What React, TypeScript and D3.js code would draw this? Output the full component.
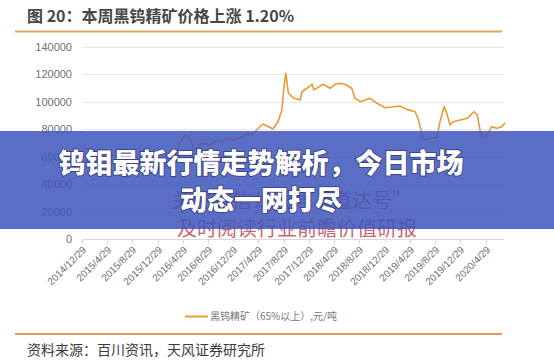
import React from "react";
import * as d3 from "d3";

// weekly price points (date, 元/吨)
const dates = [
  "2014-12-29", "2015-02-28", "2015-04-29", "2015-06-29", "2015-08-29", "2015-10-29",
  "2015-12-29", "2016-02-29", "2016-03-15", "2016-04-10", "2016-05-08", "2016-05-31",
  "2016-06-25", "2016-07-29", "2016-09-08", "2016-10-10", "2016-11-03", "2016-11-29",
  "2016-12-29", "2017-02-15", "2017-03-02", "2017-03-26", "2017-04-20", "2017-05-20",
  "2017-06-15", "2017-07-08", "2017-08-01", "2017-08-20", "2017-09-01", "2017-09-08",
  "2017-09-20", "2017-10-15", "2017-11-16", "2017-11-25", "2018-01-13", "2018-01-22",
  "2018-03-07", "2018-04-10", "2018-05-03", "2018-05-29", "2018-06-20", "2018-07-23",
  "2018-08-08", "2018-09-02", "2018-10-20", "2018-11-22", "2018-12-31", "2019-03-14",
  "2019-04-15", "2019-05-25", "2019-06-08", "2019-07-04", "2019-07-26", "2019-09-07",
  "2019-09-22", "2019-10-12", "2019-10-25", "2019-11-10", "2019-11-25", "2019-12-29",
  "2020-02-01", "2020-03-04", "2020-03-20", "2020-04-04", "2020-04-18", "2020-05-06",
  "2020-05-29", "2020-06-22", "2020-07-17", "2020-08-01",
];
const prices = [
  67000, 64000, 62000, 60000, 57000, 55000,
  52000, 54000, 60000, 68000, 75900, 73700,
  65000, 69900, 68600, 72300, 71000, 73500,
  72300, 74700, 77100, 75900, 79500, 83900,
  82000, 80200, 85500, 94000, 113600, 120700,
  106400, 102700, 101300, 107300, 112700, 108600,
  112700, 109800, 112700, 113400, 112700, 109800,
  102500, 100100, 102500, 98900, 95700, 96900,
  94500, 92800, 88000, 72800, 73000, 74200,
  85500, 96400, 91600, 83200, 85500, 86800,
  88000, 92800, 90400, 78300, 74200, 75900,
  81900, 80800, 81900, 84800,
];
const tickDates = [
  "2014/12/29", "2015/4/29", "2015/8/29", "2015/12/29", "2016/4/29", "2016/8/29",
  "2016/12/29", "2017/4/29", "2017/8/29", "2017/12/29", "2018/4/29", "2018/8/29",
  "2018/12/29", "2019/4/29", "2019/8/29", "2019/12/29", "2020/4/29",
];
const yTicks = [0, 20000, 40000, 60000, 80000, 100000, 120000, 140000];

const title = "图 20：本周黑钨精矿价格上涨 1.20%";
const legendLabel = "黑钨精矿（65%以上）,元/吨";
const source = "资料来源：百川资讯，天风证券研究所";
const bannerLines = ["钨钼最新行情走势解析，今日市场", "动态一网打尽"];
const watermark = ["关注微信公众号“道达号”", "及时阅读行业前瞻价值研报"];

const W = 554;
const H = 362;

export default function App() {
  const parse = d3.timeParse("%Y-%m-%d");
  const parseTick = d3.timeParse("%Y/%m/%d");
  const data = dates.map((d, i) => ({ date: parse(d) as Date, value: prices[i] }));

  const x = d3.scaleTime()
    .domain([parse("2014-12-29") as Date, parse("2020-08-01") as Date])
    .range([82, 505]);
  const y = d3.scaleLinear().domain([0, 140000]).range([239.5, 46.7]);

  const line = d3.line<{ date: Date; value: number }>()
    .x(d => x(d.date))
    .y(d => y(d.value));

  const sans = "'Liberation Sans', Arial, 'Noto Sans CJK SC', sans-serif";
  const cjk = "'Noto Sans CJK SC', sans-serif";

  return (
    <svg width={W} height={H} style={{ position: "absolute", left: 0, top: 0, background: "#fff" }}>
      <rect width={W} height={H} fill="#fff" />
      <text x={27} y={22} fontFamily={cjk} fontSize={16} fontWeight="bold" fill="#474747">{title}</text>
      <line x1={15} x2={502} y1={31.5} y2={31.5} stroke="#dfa36b" strokeWidth={2} />

      {yTicks.map(t => (
        <g key={t}>
          {t > 0 && <line x1={82} x2={504} y1={Math.round(y(t)) + 0.5} y2={Math.round(y(t)) + 0.5} stroke="#e8e8e8" />}
          <text x={72} y={y(t)} dy="0.35em" textAnchor="end" fontFamily={sans} fontSize={11} fill="#707070">{t}</text>
        </g>
      ))}
      <line x1={82} x2={504} y1={239.5} y2={239.5} stroke="#d9d9d9" />
      {tickDates.map(t => {
        const tx = Math.round(x(parseTick(t) as Date)) + 0.5;
        return (
          <g key={t}>
            <line x1={tx} x2={tx} y1={239.5} y2={244} stroke="#d9d9d9" />
            <text
              transform={`translate(${tx + 2},${248}) rotate(-45)`}
              textAnchor="end"
              dy="0.35em"
              fontFamily={sans}
              fontSize={10}
              fill="#707070"
            >{t}</text>
          </g>
        );
      })}

      <path d={line(data) || ""} fill="none" stroke="#e99a33" strokeWidth={1.6} strokeLinejoin="round" />

      <text x={172} y={208} fontFamily={cjk} fontSize={20} fill="#c23a55" opacity={0.8}>{watermark[0]}</text>
      <text x={177} y={236} fontFamily={cjk} fontSize={20} fill="#c23a55" opacity={0.8}>{watermark[1]}</text>

      <rect x={0} y={131} width={W} height={98} fill="rgba(64,86,188,0.86)" />
      {bannerLines.map((s, i) => (
        <text
          key={s}
          x={261}
          y={173 + i * 37}
          textAnchor="middle"
          fontFamily={cjk}
          fontSize={27}
          fontWeight={900}
          fill="#fff"
          stroke="rgba(20,20,60,0.45)"
          strokeWidth={2}
          style={{ paintOrder: "stroke" }}
        >{s}</text>
      ))}

      <line x1={185} x2={208} y1={316.5} y2={316.5} stroke="#e99a33" strokeWidth={2} />
      <text x={210} y={316.5} dy="0.35em" fontFamily={cjk} fontSize={10} fill="#777">{legendLabel}</text>

      <line x1={15} x2={502} y1={334} y2={334} stroke="#dc9c62" strokeWidth={2} />
      <text x={27} y={355} fontFamily={cjk} fontSize={14} fill="#3a3a3a">{source}</text>
    </svg>
  );
}
